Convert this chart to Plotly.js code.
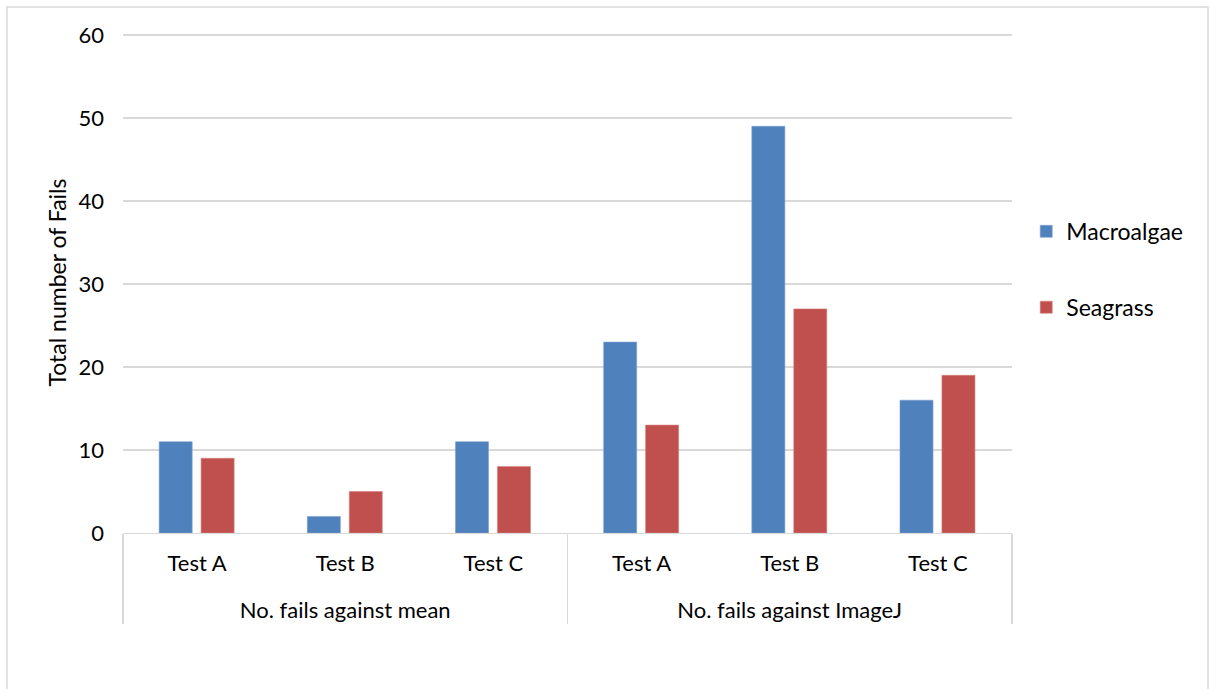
<!DOCTYPE html>
<html>
<head>
<meta charset="utf-8">
<script src="https://cdn.plot.ly/plotly-3.0.1.min.js"></script>
<style>html,body{margin:0;padding:0;background:#fff;}#chart{width:1211px;height:689px;}</style>
</head>
<body>
<div id="chart"></div>
<script>
const groups = ["No. fails against mean","No. fails against mean","No. fails against mean",
                "No. fails against ImageJ","No. fails against ImageJ","No. fails against ImageJ"];
const tests = ["Test A","Test B","Test C","Test A","Test B","Test C"];
const macroalgae = [11, 2, 11, 23, 49, 16];
const seagrass = [9, 5, 8, 13, 27, 19];
const yTicks = [0, 10, 20, 30, 40, 50, 60];

const FONT = "Lato, 'Open Sans', sans-serif";
// a blank second line under each test label opens the gap to the group labels
const testLabels = tests.map(t => t + "<br>\u00a0");

const traces = [
  {type:"bar", name:"Macroalgae", x:[groups, testLabels], y:macroalgae,
   marker:{color:"#4F81BD", line:{color:"#7DA0D0", width:0.6}},
   width:0.223, offset:-0.256, legendgroup:"a", hoverinfo:"y"},
  {type:"bar", name:"Seagrass", x:[groups, testLabels], y:seagrass,
   marker:{color:"#C0504D", line:{color:"#D8827F", width:0.6}},
   width:0.223, offset:0.027, legendgroup:"b", hoverinfo:"y"}
];

const layout = {
  width:1211, height:689,
  margin:{l:123, r:199, t:32, b:156},
  paper_bgcolor:"#ffffff", plot_bgcolor:"#ffffff",
  font:{family:FONT, size:22, color:"#000000"},
  barmode:"overlay",
  showlegend:true,
  legend:{x:1.016, xanchor:"left", y:0.645, yanchor:"top",
          font:{family:FONT, size:23, color:"#000"},
          tracegroupgap:43, traceorder:"grouped",
          itemwidth:30, bgcolor:"rgba(0,0,0,0)"},
  xaxis:{type:"multicategory", showgrid:false, showline:true, linecolor:"#d9d9d9", linewidth:1.3,
         ticks:"", showdividers:true, dividercolor:"#d9d9d9", dividerwidth:1.3,
         ticklabelstandoff:10,
         tickfont:{family:FONT, size:22, color:"#000"}, fixedrange:true},
  yaxis:{range:[0,60.36], tickvals:yTicks, ticktext:yTicks.map(String),
         showgrid:true, gridcolor:"#d9d9d9", gridwidth:1.3,
         zeroline:false, showline:false, ticks:"", ticklen:0,
         ticklabelstandoff:18,
         tickfont:{family:FONT, size:22, color:"#000"},
         title:{text:"Total number of Fails", font:{family:FONT, size:23, color:"#000"}, standoff:5},
         fixedrange:true},
  shapes:[
    {type:"rect", xref:"paper", yref:"paper",
     x0:(7-123)/889, x1:(1208-123)/889, y0:(533-720)/501, y1:(533-7)/501,
     line:{color:"#d9d9d9", width:1.5}, fillcolor:"rgba(0,0,0,0)", layer:"below"}
  ]
};

Plotly.newPlot("chart", traces, layout, {displayModeBar:false, staticPlot:true});
</script>
</body>
</html>
